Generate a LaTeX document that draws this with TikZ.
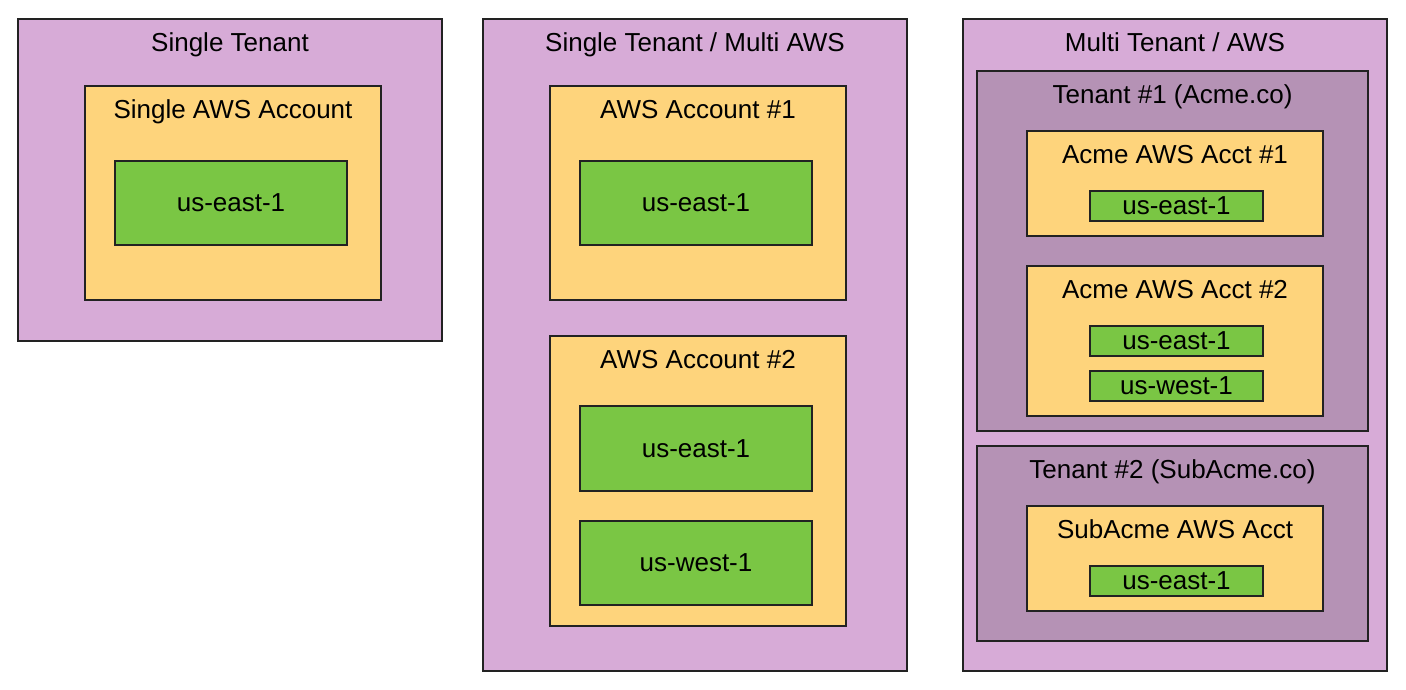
\documentclass[tikz,border=0pt]{standalone}
\usepackage{fontspec}
\setmainfont{Liberation Sans}
\usepackage{tikz}
\definecolor{tenantpurple}{HTML}{D7ABD7}
\definecolor{subpurple}{HTML}{B592B5}
\definecolor{acctyellow}{HTML}{FED47C}
\definecolor{regiongreen}{HTML}{7AC644}
\definecolor{edgegray}{HTML}{222222}
\tikzstyle{box}=[rectangle,draw=edgegray,line width=1.5pt,inner sep=0pt]
\tikzstyle{tenant}=[box,fill=tenantpurple]
\tikzstyle{subtenant}=[box,fill=subpurple]
\tikzstyle{account}=[box,fill=acctyellow,minimum width=296pt]
\tikzstyle{region}=[box,fill=regiongreen,font=\fontsize{26}{30}\selectfont]
\tikzstyle{title}=[anchor=base,inner sep=0pt,font=\fontsize{26}{30}\selectfont]

\begin{document}
\begin{tikzpicture}[x=1pt,y=-1pt]
            \useasboundingbox (0,0) rectangle (1406,689);

            % Single Tenant PART

            \node[tenant,minimum width=424pt,minimum height=322pt] (ten1) at (230,180) {};
            \node[title] (ten1t) at ([yshift=-33pt]ten1.north) {Single Tenant};
            \node[account,minimum height=214pt] (acc1) at (233,193) {};
            \node[title] (acc1t) at ([yshift=-33pt]acc1.north) {Single AWS Account};
            \node[region,minimum width=232pt,minimum height=84pt] (reg1) at (231,203) {us-east-1};

            % Single Tenant / Multi AWS PART

            \node[tenant,minimum width=424pt,minimum height=652pt] (ten2) at (695,345) {};
            \node[title] (ten2t) at ([yshift=-33pt]ten2.north) {Single Tenant / Multi AWS};
            \node[account,minimum height=214pt] (acc2) at (698,193) {};
            \node[title] (acc2t) at ([yshift=-33pt]acc2.north) {AWS Account \#1};
            \node[region,minimum width=232pt,minimum height=84pt] (reg2) at (696,203) {us-east-1};
            \node[account,minimum height=290pt] (acc3) at (698,481) {};
            \node[title] (acc3t) at ([yshift=-33pt]acc3.north) {AWS Account \#2};
            \node[region,minimum width=232pt,minimum height=85pt] (reg3) at (696,448.5) {us-east-1};
            \node[region,minimum width=232pt,minimum height=84pt] (reg4) at (696,563) {us-west-1};

            % Multi Tenant / AWS PART

            \node[tenant,minimum width=424pt,minimum height=652pt] (ten3) at (1175,345) {};
            \node[title] (ten3t) at ([yshift=-33pt]ten3.north) {Multi Tenant / AWS};

            \node[subtenant,minimum width=391pt,minimum height=360pt] (sub1) at (1172.5,251) {};
            \node[title] (sub1t) at ([yshift=-33pt]sub1.north) {Tenant \#1 (Acme.co)};
            \node[account,minimum height=105pt] (acc4) at (1175,183.5) {};
            \node[title] (acc4t) at ([yshift=-33pt]acc4.north) {Acme AWS Acct \#1};
            \node[region,minimum width=173pt,minimum height=30pt] (reg5) at (1176.5,206) {us-east-1};
            \node[account,minimum height=150pt] (acc5) at (1175,341) {};
            \node[title] (acc5t) at ([yshift=-33pt]acc5.north) {Acme AWS Acct \#2};
            \node[region,minimum width=173pt,minimum height=30pt] (reg6) at (1176.5,341) {us-east-1};
            \node[region,minimum width=173pt,minimum height=30pt] (reg7) at (1176.5,386) {us-west-1};

            \node[subtenant,minimum width=391pt,minimum height=195pt] (sub2) at (1172.5,543.5) {};
            \node[title] (sub2t) at ([yshift=-33pt]sub2.north) {Tenant \#2 (SubAcme.co)};
            \node[account,minimum height=105pt] (acc6) at (1175,558.5) {};
            \node[title] (acc6t) at ([yshift=-33pt]acc6.north) {SubAcme AWS Acct};
            \node[region,minimum width=173pt,minimum height=30pt] (reg8) at (1176.5,581) {us-east-1};

\end{tikzpicture}
\end{document}
